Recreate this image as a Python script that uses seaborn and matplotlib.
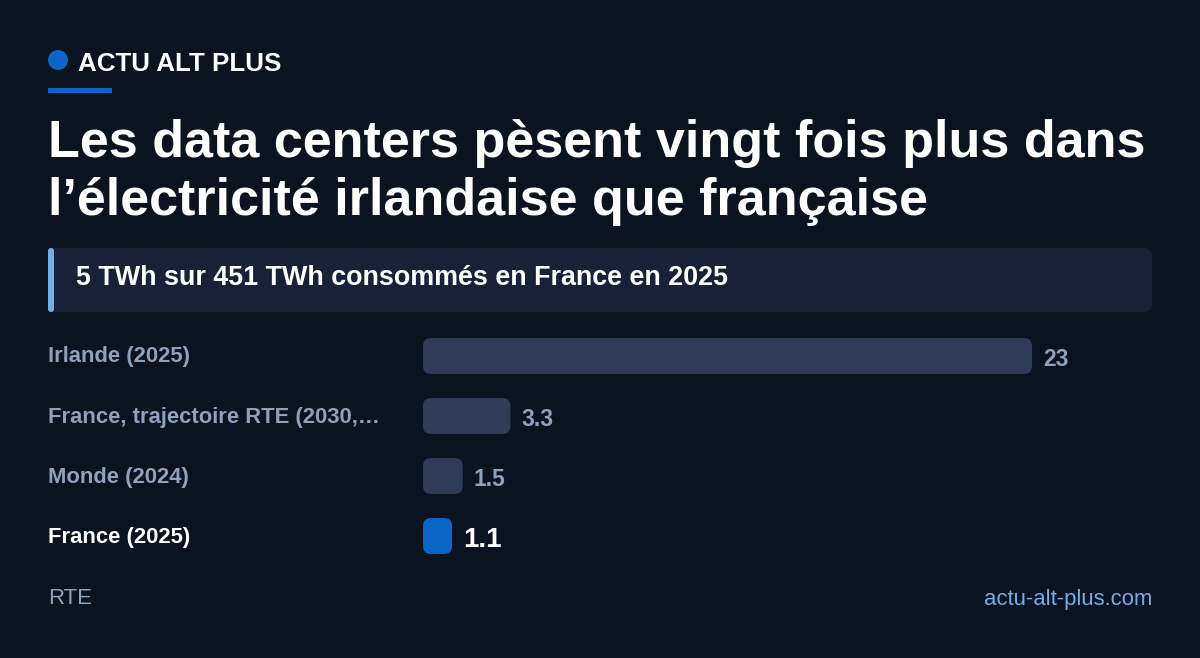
import matplotlib
matplotlib.use("Agg")
import matplotlib.pyplot as plt
from matplotlib.patches import FancyBboxPatch, Ellipse, Rectangle
import seaborn as sns
import pandas as pd

# data
categories = ["Irlande (2025)", "France, trajectoire RTE (2030,…", "Monde (2024)", "France (2025)"]
values = [23, 3.3, 1.5, 1.1]
value_labels = ["23", "3.3", "1.5", "1.1"]
highlight = "France (2025)"

BG = "#0b1220"
BAR = "#2d3d57"
BLUE = "#0c66c7"
MUTED = "#8ea2bd"
LIGHT_BLUE = "#73aee9"
PANEL = "#172238"

W, H = 1200, 658
sns.set_theme(style="white")
plt.rcParams["font.family"] = ["Liberation Sans", "DejaVu Sans"]

fig = plt.figure(figsize=(W / 100, H / 100), dpi=100, facecolor=BG)


def px_axes(x0, y0, x1, y1):
    # axes placed in pixel coords (origin top-left)
    return fig.add_axes([x0 / W, 1 - y1 / H, (x1 - x0) / W, (y1 - y0) / H])


def fx(x):
    return x / W


def fy(y):
    return 1 - y / H


# header
fig.patches.append(Ellipse((fx(58), fy(60)), 20 / W, 20 / H, transform=fig.transFigure,
                           facecolor=BLUE, edgecolor="none"))
fig.text(fx(78), fy(64), "ACTU ALT PLUS", color="white", fontsize=18.7, fontweight="bold",
         va="center", ha="left")
fig.patches.append(Rectangle((fx(48), fy(93)), 64 / W, 5 / H, transform=fig.transFigure,
                             facecolor=BLUE, edgecolor="none"))

# title
fig.text(fx(48), fy(143), "Les data centers pèsent vingt fois plus dans", color="white",
         fontsize=37.5, fontweight="bold", va="center", ha="left")
fig.text(fx(48), fy(202), "l’électricité irlandaise que française", color="white",
         fontsize=37.5, fontweight="bold", va="center", ha="left")

# subtitle panel
pax = px_axes(48, 248, 1152, 312)
pax.set_xlim(0, 1104)
pax.set_ylim(64, 0)
pax.axis("off")
pax.add_patch(FancyBboxPatch((0, 0), 1104, 64, boxstyle="round,pad=0,rounding_size=8",
                             facecolor=PANEL, edgecolor="none"))
pax.add_patch(FancyBboxPatch((0, 0), 6, 64, boxstyle="round,pad=0,rounding_size=3",
                             facecolor=LIGHT_BLUE, edgecolor="none"))
pax.text(28, 30, "5 TWh sur 451 TWh consommés en France en 2025", color="white",
         fontsize=19.4, fontweight="bold", va="center", ha="left")

# bar chart
ax = px_axes(423, 326, 1152, 566)
df = pd.DataFrame({"cat": categories, "val": values})
palette = {c: (BLUE if c == highlight else BAR) for c in categories}
sns.barplot(data=df, y="cat", x="val", hue="cat", palette=palette, orient="h",
            width=0.6, ax=ax, legend=False, saturation=1)
px_per_x = 609 / 23
ax.set_xlim(0, 729 / px_per_x)
ax.set_ylim(3.5, -0.5)
ax.axis("off")

# swap square bars for rounded ones
aspect = px_per_x / 60
for p in list(ax.patches):
    x, y = p.get_x(), p.get_y()
    w, h = p.get_width(), p.get_height()
    fc = p.get_facecolor()
    p.remove()
    ax.add_patch(FancyBboxPatch((x, y), w, h, boxstyle=f"round,pad=0,rounding_size={8 / px_per_x}",
                                mutation_aspect=aspect, facecolor=fc, edgecolor="none"))

for i, (c, v, lab) in enumerate(zip(categories, values, value_labels)):
    hl = c == highlight
    ax.text(v + 11 / px_per_x, i + 0.06, lab, color="white" if hl else MUTED,
            fontsize=20 if hl else 16.5, fontweight="bold", va="center", ha="left")
    fig.text(fx(48), fy(357 + 60 * i), c, color="white" if hl else MUTED,
             fontsize=15.8, fontweight="bold", va="center", ha="left")

# footer
fig.text(fx(48), fy(599), "RTE", color=MUTED, fontsize=15.9, va="center", ha="left")
fig.text(fx(1152), fy(599), "actu-alt-plus.com", color=LIGHT_BLUE, fontsize=15.9,
         va="center", ha="right")

fig.savefig("out.png", dpi=100, facecolor=BG)
